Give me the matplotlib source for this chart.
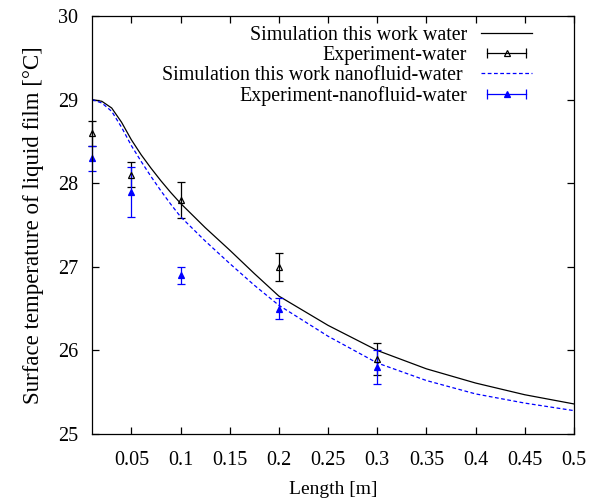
import numpy as np
import matplotlib
matplotlib.use('Agg')
import matplotlib.pyplot as plt
from matplotlib.lines import Line2D
from matplotlib.legend_handler import HandlerLine2D, HandlerTuple

plt.rcParams['font.family'] = ['Liberation Serif', 'DejaVu Serif']

# simulation curves
sim_x = [0.01, 0.02, 0.03, 0.04, 0.05, 0.06, 0.07, 0.08, 0.09, 0.1,
         0.125, 0.15, 0.175, 0.2, 0.25, 0.3, 0.35, 0.4, 0.45, 0.5]
sim_water = [29.0, 28.98, 28.9, 28.73, 28.52, 28.34, 28.18, 28.03, 27.89, 27.76,
             27.47, 27.2, 26.92, 26.65, 26.3, 26.0, 25.78, 25.61, 25.47, 25.36]
sim_nano = [29.0, 28.96, 28.86, 28.67, 28.45, 28.26, 28.08, 27.91, 27.75, 27.6,
            27.31, 27.04, 26.78, 26.54, 26.17, 25.85, 25.64, 25.48, 25.37, 25.28]

# experiments
exp_x = [0.01, 0.05, 0.1, 0.2, 0.3]
exp_water = [28.6, 28.1, 27.8, 27.0, 25.9]
err_water = [0.15, 0.15, 0.22, 0.17, 0.19]
exp_nano = [28.3, 27.9, 26.9, 26.5, 25.8]
err_nano = [0.15, 0.3, 0.1, 0.13, 0.2]

fig = plt.figure(figsize=(5.91, 5.01), dpi=100)
ax = fig.add_axes([0.1557, 0.1337, 0.971 - 0.1557, 0.968 - 0.1337])

ax.plot(sim_x, sim_water, color='black', lw=0.9)
ax.errorbar(exp_x, exp_water, yerr=err_water, fmt='^', color='black', mfc='none',
            ms=5, mew=0.9, elinewidth=0.9, capsize=3, capthick=0.9, clip_on=False)
ax.plot(sim_x, sim_nano, color='blue', lw=0.9, ls=(0, (3, 2)))
ax.errorbar(exp_x, exp_nano, yerr=err_nano, fmt='^', color='blue',
            ms=4, mew=0.9, elinewidth=0.9, capsize=3, capthick=0.9, clip_on=False)

ax.set_xlim(0.01, 0.5)
ax.set_ylim(25, 30)
ax.set_xticks([0.05, 0.1, 0.15, 0.2, 0.25, 0.3, 0.35, 0.4, 0.45, 0.5])
ax.set_xticklabels(['0.05', '0.1', '0.15', '0.2', '0.25', '0.3', '0.35', '0.4', '0.45', '0.5'])
ax.set_yticks([25, 26, 27, 28, 29, 30])
ax.tick_params(direction='in', top=True, right=True, length=5, width=0.9,
               labelsize=14.5)
ax.tick_params(axis='x', pad=12)
ax.tick_params(axis='y', pad=10)
for s in ax.spines.values():
    s.set_linewidth(0.9)

ax.set_xlabel('Length [m]', fontsize=14, labelpad=8)
ax.set_ylabel('Surface temperature of liquid film [°C]', fontsize=16.5, labelpad=10)

# legend handles in gnuplot style
h1 = Line2D([], [], color='black', lw=0.9)
caps_k = Line2D([], [], color='black', lw=0.9, marker='|', ms=7, mew=0.9)
tri_k = Line2D([], [], color='black', lw=0, marker='^', mfc='none', ms=5, mew=0.9)
h3 = Line2D([], [], color='blue', lw=0.9, ls=(0, (3, 2)))
caps_b = Line2D([], [], color='blue', lw=0.9, marker='|', ms=7, mew=0.9)
tri_b = Line2D([], [], color='blue', lw=0, marker='^', ms=4, mew=0.9)

hmap = {caps_k: HandlerLine2D(numpoints=2), caps_b: HandlerLine2D(numpoints=2),
        tri_k: HandlerLine2D(numpoints=1), tri_b: HandlerLine2D(numpoints=1),
        tuple: HandlerTuple(ndivide=1)}

ax.legend([h1, (caps_k, tri_k), h3, (caps_b, tri_b)],
          ['Simulation this work water', 'Experiment-water',
           'Simulation this work nanofluid-water ', 'Experiment-nanofluid-water'],
          handler_map=hmap, loc='upper right', bbox_to_anchor=(0.93, 0.995),
          frameon=False, markerfirst=False,
          fontsize=14.4, handlelength=2.55, handletextpad=0.7, labelspacing=0.05,
          borderaxespad=0.1, borderpad=0.3)

fig.savefig('out.png', dpi=100)
